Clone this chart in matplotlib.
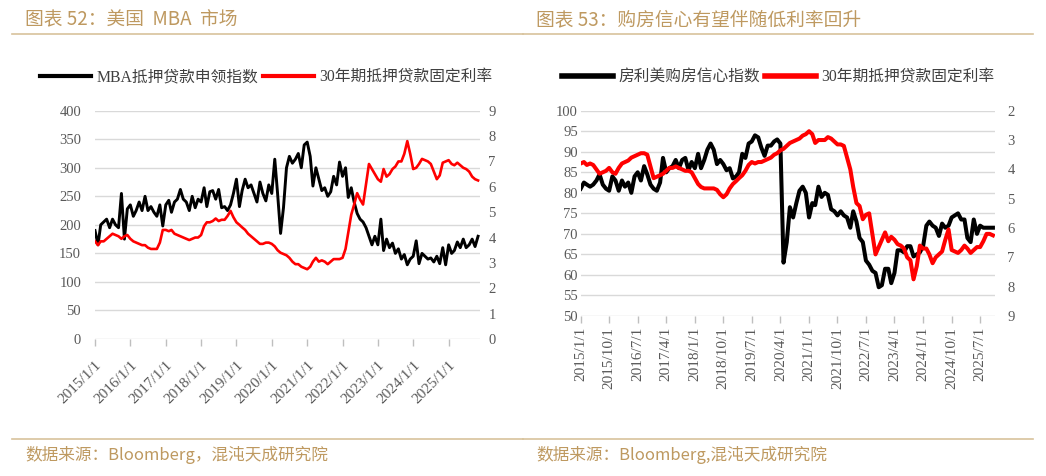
import matplotlib
matplotlib.use('Agg')
import matplotlib.pyplot as plt
import pandas as pd
from matplotlib.lines import Line2D

# ---------------- data (monthly) ----------------
mba_index = [190, 165, 200, 205, 210, 195, 210, 200, 195, 255,
             175, 228, 235, 215, 225, 240, 225, 250, 225, 232,
             222, 215, 235, 198, 235, 243, 222, 240, 245, 262,
             245, 240, 225, 250, 230, 245, 240, 265, 232, 258,
             260, 245, 262, 230, 232, 225, 235, 255, 280, 232,
             260, 280, 265, 270, 255, 240, 275, 255, 242, 270,
             255, 315, 255, 185, 230, 300, 320, 308, 315, 325,
             300, 340, 345, 320, 268, 300, 280, 260, 265, 250,
             258, 285, 270, 310, 285, 300, 248, 265, 240, 220,
             210, 205, 195, 180, 165, 180, 165, 210, 155, 175,
             160, 168, 150, 158, 140, 148, 130, 140, 145, 172,
             132, 150, 145, 140, 142, 135, 145, 132, 160, 130,
             165, 150, 155, 170, 160, 175, 160, 165, 175, 162,
             180]
mba_rate = [3.85, 3.70, 3.85, 3.85, 3.95, 4.05, 4.15, 4.10, 4.05, 3.95,
            4.05, 4.10, 3.95, 3.85, 3.80, 3.75, 3.70, 3.70, 3.60, 3.55,
            3.55, 3.55, 3.80, 4.30, 4.30, 4.25, 4.30, 4.15, 4.10, 4.05,
            4.00, 3.95, 3.90, 3.95, 4.00, 4.00, 4.10, 4.45, 4.60, 4.60,
            4.65, 4.75, 4.65, 4.70, 4.70, 4.85, 5.05, 4.80, 4.60, 4.50,
            4.40, 4.30, 4.15, 4.05, 3.95, 3.85, 3.75, 3.75, 3.80, 3.80,
            3.75, 3.65, 3.50, 3.40, 3.35, 3.30, 3.20, 3.05, 2.95, 2.95,
            2.85, 2.80, 2.75, 2.85, 3.05, 3.20, 3.05, 3.10, 3.05, 2.95,
            3.05, 3.15, 3.15, 3.15, 3.20, 3.55, 4.20, 4.90, 5.30, 5.75,
            5.50, 5.30, 6.10, 6.90, 6.70, 6.50, 6.30, 6.20, 6.70, 6.40,
            6.50, 6.70, 6.80, 7.00, 7.00, 7.30, 7.80, 7.30, 6.70, 6.75,
            6.90, 7.10, 7.05, 7.00, 6.90, 6.60, 6.30, 6.45, 6.95, 7.00,
            7.05, 6.90, 6.85, 6.95, 6.85, 6.75, 6.70, 6.60, 6.40, 6.30,
            6.25]
hpsi = [81, 82.5, 82, 81.5, 82, 83, 84.5, 82, 81, 80.5,
        84, 83, 80.5, 83, 81.5, 82.5, 80, 84, 85, 83,
        86.5, 84.5, 82, 81, 80.5, 82.5, 88.5, 85, 86, 86.5,
        88, 86, 88, 88.5, 85.5, 87.5, 86, 89.5, 86, 88,
        90.5, 92, 90.5, 87, 88, 87, 85.5, 86, 83.5, 84,
        85, 89.5, 88.5, 92, 92.5, 94, 93.5, 91, 89, 91.5,
        91.5, 92.5, 93, 92, 63, 68, 76.5, 74, 77.5, 80.5,
        81.5, 80, 74, 77.5, 77, 81.5, 79, 80, 79.5, 76,
        75.5, 74.5, 75.5, 74.5, 74, 71.5, 75.5, 73, 69, 68,
        63.5, 62.5, 61, 60.5, 57, 57.5, 61.5, 61.5, 58, 60.5,
        66, 66, 65.5, 67, 67, 64.5, 65, 65.5, 67, 72,
        73, 72, 71.5, 69.5, 72.5, 71.5, 72, 74, 74.5, 75,
        73.5, 73.5, 69, 68, 73.5, 70, 72, 71.5, 71.5, 71.5,
        71.5]
hpsi_rate = [3.80, 3.75, 3.85, 3.80, 3.85, 4.00, 4.15, 4.10, 4.05, 3.95,
             4.10, 4.15, 3.95, 3.80, 3.75, 3.70, 3.60, 3.55, 3.50, 3.45,
             3.45, 3.50, 3.90, 4.30, 4.25, 4.20, 4.15, 4.05, 3.95, 3.95,
             3.90, 3.95, 4.00, 4.05, 4.05, 4.10, 4.30, 4.50, 4.60, 4.65,
             4.65, 4.65, 4.65, 4.70, 4.85, 4.95, 4.85, 4.65, 4.50, 4.40,
             4.30, 4.20, 4.05, 3.85, 3.75, 3.80, 3.75, 3.75, 3.70, 3.65,
             3.60, 3.50, 3.45, 3.35, 3.30, 3.20, 3.10, 3.05, 3.00, 2.95,
             2.85, 2.80, 2.70, 2.80, 3.10, 3.00, 3.00, 3.00, 2.90, 2.95,
             3.05, 3.15, 3.15, 3.20, 3.60, 4.00, 4.60, 5.15, 5.25, 5.70,
             5.55, 5.50, 6.20, 6.90, 6.65, 6.40, 6.15, 6.45, 6.30, 6.40,
             6.55, 6.60, 6.70, 7.00, 7.10, 7.75, 7.30, 6.60, 6.70, 6.70,
             6.90, 7.20, 7.00, 6.90, 6.80, 6.40, 6.05, 6.75, 6.80, 6.85,
             6.75, 6.60, 6.70, 6.85, 6.75, 6.65, 6.65, 6.45, 6.20, 6.20,
             6.25]

left_labels = ['MBA抵押贷款申领指数', '30年期抵押贷款固定利率']
right_labels = ['房利美购房信心指数', '30年期抵押贷款固定利率']
title_left = '图表 52：美国  MBA  市场'
title_right = '图表 53：购房信心有望伴随低利率回升'
source_left = '数据来源：Bloomberg，混沌天成研究院'
source_right = '数据来源：Bloomberg,混沌天成研究院'

# ---------------- styling ----------------
GOLD = '#BE9960'
GOLD_LINE = '#D8C29C'
GRID = '#D9D9D9'
TICK = '#595959'
SERIF = ['Liberation Serif', 'Noto Sans CJK SC']
CJK = ['Noto Sans CJK SC', 'DejaVu Sans']
plt.rcParams['font.family'] = SERIF

fig = plt.figure(figsize=(10.46, 4.76), dpi=100)

def fmt(d):
    return f"{d.year}/{d.month}/{d.day}"

def style_axes(ax, axr):
    for a in (ax, axr):
        for s in a.spines.values():
            s.set_visible(False)
        a.tick_params(axis='y', length=0, labelcolor=TICK, labelsize=10.5)
    ax.grid(axis='y', color=GRID, lw=1.0)
    ax.set_axisbelow(True)
    ax.tick_params(axis='x', color='#BFBFBF', length=5, width=1,
                   labelcolor=TICK, labelsize=11)

# ---------------- left panel ----------------
ld = pd.date_range('2015-01-01', periods=len(mba_index), freq='MS')
ax1 = fig.add_axes([95/1046, 1-339/476, 385/1046, 228.3/476])
ax1r = ax1.twinx()
ax1.plot(ld, mba_index, color='black', lw=2.1, solid_joinstyle='round')
ax1r.plot(ld, mba_rate, color='#FF0000', lw=1.9, solid_joinstyle='round')
ax1.set_ylim(0, 400)
ax1.set_yticks(range(0, 401, 50))
ax1r.set_ylim(0, 9)
ax1r.set_yticks(range(0, 10))
ax1.set_xlim(ld[0], ld[-1] + pd.Timedelta(days=20))
lt = pd.date_range('2015-01-01', '2025-01-01', freq='YS')
ax1.set_xticks(lt)
ax1.set_xticklabels([fmt(d) for d in lt], rotation=45, ha='right',
                    va='top', rotation_mode='anchor')
style_axes(ax1, ax1r)
ax1.tick_params(axis='y', pad=10)
ax1r.tick_params(axis='y', pad=6)
ax1.tick_params(axis='x', pad=9)

# ---------------- right panel ----------------
rd = pd.date_range('2015-01-01', periods=len(hpsi), freq='MS')
ax2 = fig.add_axes([580.7/1046, 1-316/476, 414.3/1046, 205.3/476])
ax2r = ax2.twinx()
ax2.plot(rd, hpsi, color='black', lw=2.9, solid_joinstyle='round')
ax2r.plot(rd, hpsi_rate, color='#FF0000', lw=2.9, solid_joinstyle='round')
ax2.set_ylim(50, 100)
ax2.set_yticks(range(50, 101, 5))
ax2r.set_ylim(9, 2)
ax2r.set_yticks(range(2, 10))
ax2.set_xlim(rd[0], rd[-1] + pd.Timedelta(days=20))
rt = pd.date_range('2015-01-01', '2025-07-01', freq='9MS')
ax2.set_xticks(rt)
ax2.set_xticklabels([fmt(d) for d in rt], rotation=90, ha='center', va='top')
style_axes(ax2, ax2r)
ax2.tick_params(axis='y', pad=2)
ax2r.tick_params(axis='y', pad=9)
ax2.tick_params(axis='x', pad=3)

# ---------------- legends ----------------
def legend(labels, x, lw):
    h = [Line2D([], [], color='black', lw=lw), Line2D([], [], color='#FF0000', lw=lw)]
    fig.legend(h, labels, loc='center', bbox_to_anchor=(x, 1-77/476), ncol=2,
               frameon=False, handlelength=3.3, handletextpad=0.3,
               columnspacing=0.3, prop={'family': SERIF, 'size': 11.3},
               labelcolor='#404040')

legend(left_labels, 266/1046, 3)
legend(right_labels, 778/1046, 4)

# ---------------- titles, rules, sources ----------------
fig.text(25/1046, 1-20/476, title_left, family=CJK, fontsize=13.5,
         color=GOLD, va='center', ha='left')
fig.text(536/1046, 1-20/476, title_right, family=CJK, fontsize=13.5,
         color=GOLD, va='center', ha='left')
for x0, x1 in ((12, 523), (523, 1033)):
    fig.add_artist(Line2D([x0/1046, x1/1046], [1-34/476]*2, color=GOLD_LINE, lw=1.2))
    fig.add_artist(Line2D([x0/1046, x1/1046], [1-439/476]*2, color=GOLD_LINE, lw=1.2))
fig.text(25/1046, 1-455/476, source_left, family=CJK, fontsize=12,
         color=GOLD, va='center', ha='left')
fig.text(536/1046, 1-455/476, source_right, family=CJK, fontsize=12,
         color=GOLD, va='center', ha='left')

fig.savefig('out.png', dpi=100)
